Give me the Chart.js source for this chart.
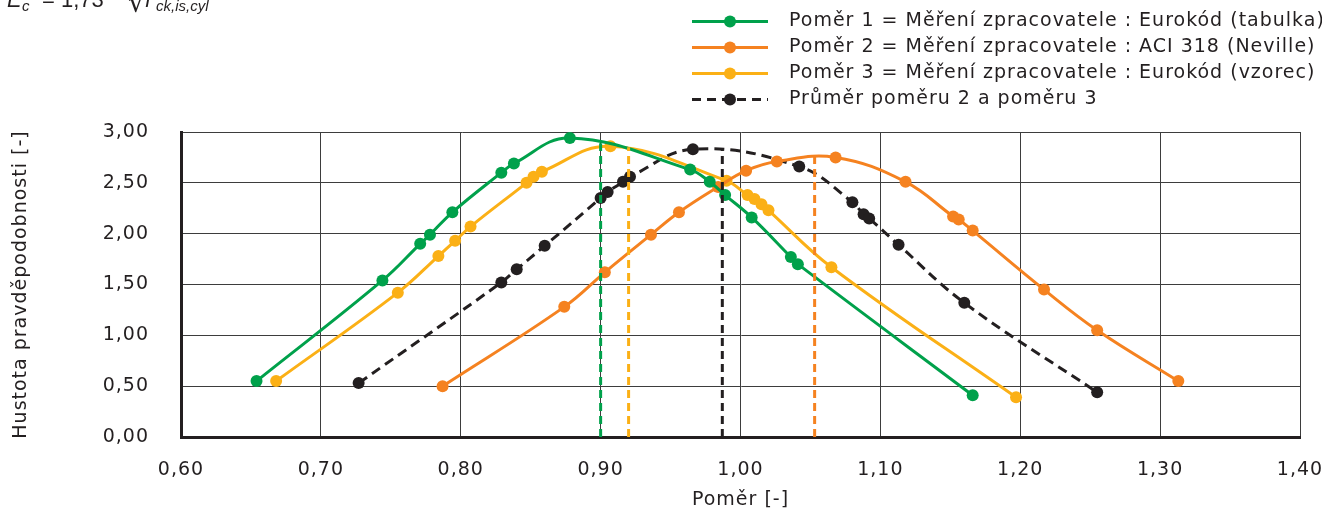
<!DOCTYPE html>
<html>
<head>
<meta charset="utf-8">
<script src="https://cdn.jsdelivr.net/npm/chart.js@4.4.1/dist/chart.umd.min.js"></script>
<style>
  html, body { margin: 0; padding: 0; background: #ffffff; }
  canvas { display: block; }
</style>
</head>
<body>
<canvas id="chart" width="1322" height="511"></canvas>
<script>
// Poměr 1 = Měření zpracovatele : Eurokód (tabulka)
const ratio1X = [0.654, 0.744, 0.771, 0.778, 0.794, 0.829, 0.838, 0.878, 0.964, 0.978, 0.989, 1.008, 1.036, 1.041, 1.166];
const ratio1Y = [0.55, 1.54, 1.90, 1.99, 2.21, 2.60, 2.69, 2.94, 2.63, 2.51, 2.38, 2.16, 1.77, 1.70, 0.41];

// Poměr 2 = Měření zpracovatele : ACI 318 (Neville)
const ratio2X = [0.787, 0.874, 0.903, 0.936, 0.956, 0.984, 1.004, 1.026, 1.068, 1.118, 1.152, 1.156, 1.166, 1.217, 1.255, 1.313];
const ratio2Y = [0.50, 1.28, 1.62, 1.99, 2.21, 2.46, 2.62, 2.71, 2.75, 2.51, 2.17, 2.14, 2.03, 1.45, 1.05, 0.55];

// Poměr 3 = Měření zpracovatele : Eurokód (vzorec)
const ratio3X = [0.668, 0.755, 0.784, 0.796, 0.807, 0.847, 0.852, 0.858, 0.907, 0.990, 1.005, 1.010, 1.015, 1.020, 1.065, 1.197];
const ratio3Y = [0.55, 1.42, 1.78, 1.93, 2.07, 2.50, 2.56, 2.61, 2.86, 2.52, 2.38, 2.34, 2.29, 2.23, 1.67, 0.39];

// Průměr poměru 2 a poměru 3
const avgX = [0.727, 0.829, 0.840, 0.860, 0.900, 0.905, 0.916, 0.921, 0.966, 1.042, 1.080, 1.088, 1.092, 1.113, 1.160, 1.255];
const avgY = [0.53, 1.52, 1.65, 1.88, 2.35, 2.41, 2.51, 2.56, 2.83, 2.66, 2.31, 2.19, 2.15, 1.89, 1.32, 0.44];

// Mean ratio of each series (vertical dashed markers) and the density reached there
const meanX = [0.900, 1.053, 0.920, 0.987];
const meanY = [2.89, 2.76, 2.85, 2.83];

const seriesNames = [
  'Poměr 1 = Měření zpracovatele : Eurokód (tabulka)',
  'Poměr 2 = Měření zpracovatele : ACI 318 (Neville)',
  'Poměr 3 = Měření zpracovatele : Eurokód (vzorec)',
  'Průměr poměru 2 a poměru 3'
];

const xTicks = [0.6, 0.7, 0.8, 0.9, 1.0, 1.1, 1.2, 1.3, 1.4];
const yTicks = [0, 0.5, 1.0, 1.5, 2.0, 2.5, 3.0];

const xTitle = 'Poměr [-]';
const yTitle = 'Hustota pravděpodobnosti [-]';

const colors = ['#00a14b', '#f58220', '#fbb016', '#231f20'];
const dashes = [[], [], [], [10, 6]];
const textColor = '#231f20';
const fontFamily = '"DejaVu Sans", sans-serif';
const tracking = '1px';

const toPoints = (xs, ys) => xs.map((x, i) => ({ x, y: ys[i] }));
const fmt = v => v.toFixed(2).replace('.', ',');

const seriesData = [
  toPoints(ratio1X, ratio1Y),
  toPoints(ratio2X, ratio2Y),
  toPoints(ratio3X, ratio3Y),
  toPoints(avgX, avgY)
];

const datasets = [];
// vertical mean markers drawn first so the curves sit on top
meanX.forEach((mx, i) => {
  datasets.push({
    label: 'mean ' + (i + 1),
    data: [{ x: mx, y: 0 }, { x: mx, y: meanY[i] }],
    borderColor: colors[i],
    borderWidth: 3,
    borderDash: [8, 5],
    pointRadius: 0,
    tension: 0
  });
});
seriesData.forEach((pts, i) => {
  datasets.push({
    label: seriesNames[i],
    data: pts,
    borderColor: colors[i],
    backgroundColor: colors[i],
    borderWidth: 3,
    borderDash: dashes[i],
    pointRadius: 6,
    pointBorderWidth: 0,
    pointBackgroundColor: colors[i],
    tension: 0.4
  });
});

// Chart.js resets the context on resize, so the tracking is reapplied before each pass
const trackingPlugin = {
  id: 'tracking',
  beforeUpdate(chart) { chart.ctx.letterSpacing = tracking; },
  beforeLayout(chart) { chart.ctx.letterSpacing = tracking; },
  beforeDraw(chart) { chart.ctx.letterSpacing = tracking; }
};

// Legend: short line with a marker, followed by the series name
const legendPlugin = {
  id: 'lineLegend',
  afterDraw(chart) {
    const ctx = chart.ctx;
    ctx.save();
    ctx.letterSpacing = tracking;
    ctx.font = '19px ' + fontFamily;
    ctx.textBaseline = 'middle';
    ctx.textAlign = 'left';
    const x0 = 692, x1 = 768, xm = 730, xt = 789, y0 = 21.5, step = 26;
    seriesNames.forEach((name, i) => {
      const y = y0 + i * step;
      ctx.strokeStyle = colors[i];
      ctx.lineWidth = 3;
      ctx.setLineDash(i === 3 ? [9, 6] : []);
      ctx.beginPath();
      ctx.moveTo(x0, y);
      ctx.lineTo(x1, y);
      ctx.stroke();
      ctx.setLineDash([]);
      ctx.fillStyle = colors[i];
      ctx.beginPath();
      ctx.arc(xm, y, 6, 0, Math.PI * 2);
      ctx.fill();
      ctx.fillStyle = textColor;
      ctx.fillText(name, xt, y);
    });
    ctx.restore();
  }
};

// Formula line in the top left corner
const formulaPlugin = {
  id: 'formula',
  afterDraw(chart) {
    const ctx = chart.ctx;
    ctx.save();
    ctx.letterSpacing = '0px';
    ctx.fillStyle = textColor;
    ctx.textBaseline = 'alphabetic';
    ctx.textAlign = 'left';
    const big = '22px "Liberation Sans", Arial, sans-serif';
    const small = '15px "Liberation Sans", Arial, sans-serif';
    ctx.font = 'italic ' + big;
    ctx.fillText('E', 7, 7);
    ctx.font = 'italic ' + small;
    ctx.fillText('c', 22, 11);
    ctx.font = big;
    ctx.fillText('= 1,73', 42, 7);
    ctx.font = '28px "DejaVu Sans", sans-serif';
    ctx.fillText('√', 128, 12);
    ctx.font = 'italic ' + big;
    ctx.fillText('f', 145, 7);
    ctx.font = 'italic ' + small;
    ctx.fillText('ck,is,cyl', 156, 11);
    ctx.restore();
  }
};

new Chart(document.getElementById('chart'), {
  type: 'line',
  data: { datasets },
  options: {
    responsive: false,
    animation: false,
    devicePixelRatio: 1,
    layout: { padding: { top: 132, right: 22, left: 0, bottom: 0 } },
    plugins: {
      legend: { display: false },
      tooltip: { enabled: false }
    },
    scales: {
      x: {
        type: 'linear',
        min: xTicks[0],
        max: xTicks[xTicks.length - 1],
        afterBuildTicks(scale) { scale.ticks = xTicks.map(v => ({ value: v })); },
        afterFit(scale) { scale.height = 74; scale.paddingLeft = 0; scale.paddingRight = 0; },
        ticks: {
          callback: v => fmt(v),
          color: textColor,
          font: { family: fontFamily, size: 19 },
          padding: 22,
          maxRotation: 0
        },
        grid: { color: '#3d3d3d', lineWidth: 1, drawTicks: false },
        border: { color: textColor, width: 3 },
        title: {
          display: true,
          text: xTitle,
          color: textColor,
          font: { family: fontFamily, size: 19 },
          padding: { top: 0, bottom: 0 }
        }
      },
      y: {
        type: 'linear',
        min: yTicks[0],
        max: yTicks[yTicks.length - 1],
        afterBuildTicks(scale) { scale.ticks = yTicks.map(v => ({ value: v })); },
        afterFit(scale) { scale.width = 181; scale.paddingTop = 0; scale.paddingBottom = 0; },
        ticks: {
          callback: v => fmt(v),
          color: textColor,
          font: { family: fontFamily, size: 19 },
          padding: 32
        },
        grid: { color: '#3d3d3d', lineWidth: 1, drawTicks: false },
        border: { color: textColor, width: 3 },
        title: {
          display: true,
          text: yTitle,
          color: textColor,
          font: { family: fontFamily, size: 19 },
          padding: { top: 10, bottom: 0 }
        }
      }
    }
  },
  plugins: [trackingPlugin, legendPlugin, formulaPlugin]
});
</script>
</body>
</html>
